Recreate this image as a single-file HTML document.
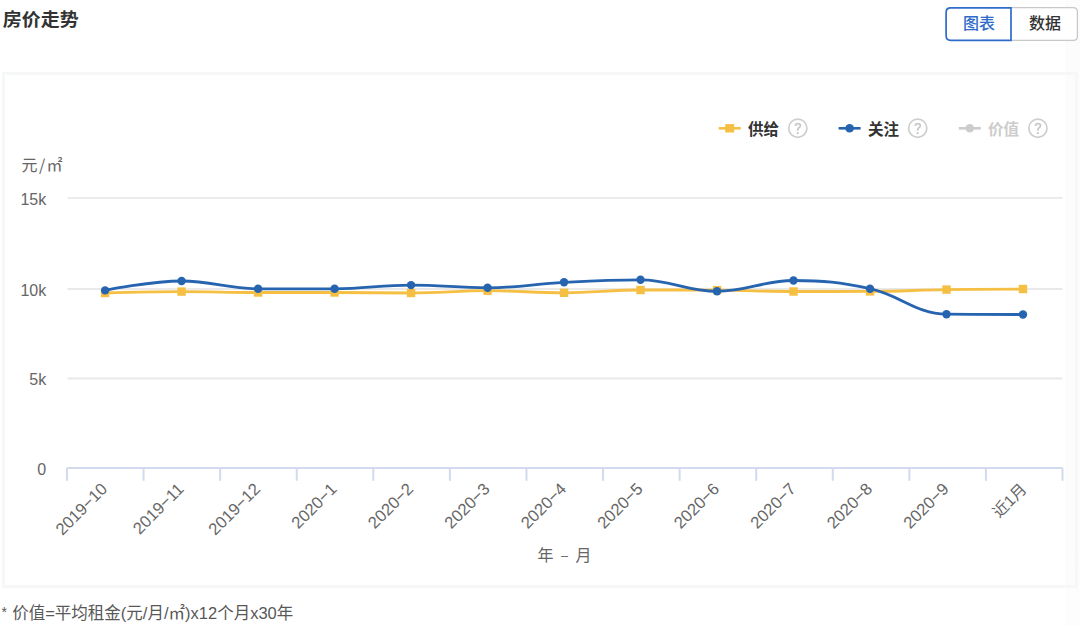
<!DOCTYPE html>
<html><head><meta charset="utf-8"><title>房价走势</title>
<style>
*{box-sizing:border-box;margin:0;padding:0}
html,body{width:1080px;height:626px;background:#fff;overflow:hidden;position:relative;font-family:"Liberation Sans", "Noto Sans CJK SC", sans-serif;}
.title{position:absolute;left:2.8px;top:6px;font-size:19px;font-weight:bold;color:#333;line-height:28px;white-space:nowrap;transform:scaleY(0.94);transform-origin:0 22px}
.btns{position:absolute;left:946px;top:7px;width:132px;height:34px;display:flex;background:#fff;border-radius:4px}
.btn{width:66px;height:34px;font-size:16px;line-height:34px;text-align:center;color:#333;font-weight:500}
.btn.on{color:#2f6bc9}

.box{position:absolute;left:2px;top:72px;width:1076px;height:516px;border:3px solid #f6f7f9;background:transparent}
.note{position:absolute;left:1px;top:600.2px;font-size:16.5px;color:#585858;line-height:24px;white-space:nowrap}
</style></head><body>
<div style="position:absolute;left:1065px;top:0;width:15px;height:626px;background:#fcfcfc;background:linear-gradient(#fcfcfc 0,#fcfcfc 88%,#fdfdfd 100%)"></div>
<div class="title">房价走势</div>
<div class="btns"><div class="btn on">图表</div><div class="btn off">数据</div></div>
<div class="box"></div>
<svg width="1080" height="626" viewBox="0 0 1080 626" style="position:absolute;left:0;top:0" font-family='"Liberation Sans", "Noto Sans CJK SC", sans-serif'>
<line x1="67.5" y1="378.5" x2="1062.5" y2="378.5" stroke="#e9e9e9" stroke-width="1.9"/>
<line x1="67.5" y1="289.0" x2="1062.5" y2="289.0" stroke="#e9e9e9" stroke-width="1.9"/>
<line x1="67.5" y1="197.9" x2="1062.5" y2="197.9" stroke="#e9e9e9" stroke-width="1.9"/>
<line x1="67.0" y1="468.0" x2="1062.5" y2="468.0" stroke="#d2daed" stroke-width="2"/>
<line x1="67.00" y1="468.0" x2="67.00" y2="480.8" stroke="#d2daed" stroke-width="2"/>
<line x1="143.58" y1="468.0" x2="143.58" y2="480.8" stroke="#d2daed" stroke-width="2"/>
<line x1="220.15" y1="468.0" x2="220.15" y2="480.8" stroke="#d2daed" stroke-width="2"/>
<line x1="296.73" y1="468.0" x2="296.73" y2="480.8" stroke="#d2daed" stroke-width="2"/>
<line x1="373.31" y1="468.0" x2="373.31" y2="480.8" stroke="#d2daed" stroke-width="2"/>
<line x1="449.88" y1="468.0" x2="449.88" y2="480.8" stroke="#d2daed" stroke-width="2"/>
<line x1="526.46" y1="468.0" x2="526.46" y2="480.8" stroke="#d2daed" stroke-width="2"/>
<line x1="603.04" y1="468.0" x2="603.04" y2="480.8" stroke="#d2daed" stroke-width="2"/>
<line x1="679.62" y1="468.0" x2="679.62" y2="480.8" stroke="#d2daed" stroke-width="2"/>
<line x1="756.19" y1="468.0" x2="756.19" y2="480.8" stroke="#d2daed" stroke-width="2"/>
<line x1="832.77" y1="468.0" x2="832.77" y2="480.8" stroke="#d2daed" stroke-width="2"/>
<line x1="909.35" y1="468.0" x2="909.35" y2="480.8" stroke="#d2daed" stroke-width="2"/>
<line x1="985.92" y1="468.0" x2="985.92" y2="480.8" stroke="#d2daed" stroke-width="2"/>
<line x1="1062.50" y1="468.0" x2="1062.50" y2="480.8" stroke="#d2daed" stroke-width="2"/>
<text x="46.2" y="474.7" text-anchor="end" font-size="16" fill="#666666">0</text>
<text x="46.2" y="385.2" text-anchor="end" font-size="16" fill="#666666">5k</text>
<text x="46.2" y="295.7" text-anchor="end" font-size="16" fill="#666666">10k</text>
<text x="46.2" y="204.6" text-anchor="end" font-size="16" fill="#666666">15k</text>
<text y="171" font-size="16" fill="#666666" font-family='"Noto Sans CJK SC", sans-serif'><tspan x="21.5">元</tspan><tspan x="39">/</tspan><tspan x="46.6">㎡</tspan></text>
<text x="108.40" y="490.0" text-anchor="end" font-size="16.6" fill="#666666" transform="rotate(-45 108.40 490.0)">2019−10</text>
<text x="184.89" y="490.0" text-anchor="end" font-size="16.6" fill="#666666" transform="rotate(-45 184.89 490.0)">2019−11</text>
<text x="261.38" y="490.0" text-anchor="end" font-size="16.6" fill="#666666" transform="rotate(-45 261.38 490.0)">2019−12</text>
<text x="337.87" y="490.0" text-anchor="end" font-size="16.6" fill="#666666" transform="rotate(-45 337.87 490.0)">2020−1</text>
<text x="414.36" y="490.0" text-anchor="end" font-size="16.6" fill="#666666" transform="rotate(-45 414.36 490.0)">2020−2</text>
<text x="490.85" y="490.0" text-anchor="end" font-size="16.6" fill="#666666" transform="rotate(-45 490.85 490.0)">2020−3</text>
<text x="567.34" y="490.0" text-anchor="end" font-size="16.6" fill="#666666" transform="rotate(-45 567.34 490.0)">2020−4</text>
<text x="643.83" y="490.0" text-anchor="end" font-size="16.6" fill="#666666" transform="rotate(-45 643.83 490.0)">2020−5</text>
<text x="720.32" y="490.0" text-anchor="end" font-size="16.6" fill="#666666" transform="rotate(-45 720.32 490.0)">2020−6</text>
<text x="796.81" y="490.0" text-anchor="end" font-size="16.6" fill="#666666" transform="rotate(-45 796.81 490.0)">2020−7</text>
<text x="873.30" y="490.0" text-anchor="end" font-size="16.6" fill="#666666" transform="rotate(-45 873.30 490.0)">2020−8</text>
<text x="949.79" y="490.0" text-anchor="end" font-size="16.6" fill="#666666" transform="rotate(-45 949.79 490.0)">2020−9</text>
<text x="1027.48" y="490.3" text-anchor="end" font-size="15.6" fill="#666666" transform="rotate(-45 1027.48 490.3)">近1月</text>
<text y="561" font-size="16" fill="#666666"><tspan x="537.6">年</tspan><tspan x="561" dy="-0.8" font-size="12.6">–</tspan><tspan x="575.6" dy="0.8">月</tspan></text>
<path d="M105.10 293.00 C105.10 293.00 150.99 291.60 181.59 291.60 C212.19 291.60 227.48 292.50 258.08 292.50 C288.68 292.50 303.97 292.50 334.57 292.50 C365.17 292.50 380.46 293.00 411.06 293.00 C441.66 293.00 456.95 290.70 487.55 290.70 C518.15 290.70 533.44 292.80 564.04 292.80 C594.64 292.80 609.93 290.00 640.53 290.00 C671.13 290.00 686.42 290.00 717.02 290.10 C747.62 290.20 762.91 291.50 793.51 291.50 C824.11 291.50 839.40 291.50 870.00 291.40 C900.60 291.30 915.89 290.08 946.49 289.60 C977.09 289.12 1022.98 289.00 1022.98 289.00" fill="none" stroke="#f5bf43" stroke-width="2.8" stroke-linejoin="round" stroke-linecap="round"/>
<rect x="100.90" y="288.80" width="8.4" height="8.4" fill="#f5bf43"/>
<rect x="177.39" y="287.40" width="8.4" height="8.4" fill="#f5bf43"/>
<rect x="253.88" y="288.30" width="8.4" height="8.4" fill="#f5bf43"/>
<rect x="330.37" y="288.30" width="8.4" height="8.4" fill="#f5bf43"/>
<rect x="406.86" y="288.80" width="8.4" height="8.4" fill="#f5bf43"/>
<rect x="483.35" y="286.50" width="8.4" height="8.4" fill="#f5bf43"/>
<rect x="559.84" y="288.60" width="8.4" height="8.4" fill="#f5bf43"/>
<rect x="636.33" y="285.80" width="8.4" height="8.4" fill="#f5bf43"/>
<rect x="712.82" y="285.90" width="8.4" height="8.4" fill="#f5bf43"/>
<rect x="789.31" y="287.30" width="8.4" height="8.4" fill="#f5bf43"/>
<rect x="865.80" y="287.20" width="8.4" height="8.4" fill="#f5bf43"/>
<rect x="942.29" y="285.40" width="8.4" height="8.4" fill="#f5bf43"/>
<rect x="1018.78" y="284.80" width="8.4" height="8.4" fill="#f5bf43"/>
<path d="M105.10 290.40 C105.10 290.40 150.99 281.00 181.59 281.00 C212.19 281.00 227.48 288.80 258.08 288.80 C288.68 288.80 303.97 288.80 334.57 288.80 C365.17 288.80 380.46 285.10 411.06 285.10 C441.66 285.10 456.95 287.80 487.55 287.80 C518.15 287.80 533.44 283.90 564.04 282.30 C594.64 280.70 609.93 279.80 640.53 279.80 C671.13 279.80 686.42 291.30 717.02 291.30 C747.62 291.30 762.91 280.50 793.51 280.50 C824.11 280.50 839.40 281.96 870.00 288.70 C900.60 295.44 915.89 313.90 946.49 314.20 C977.09 314.50 1022.98 314.50 1022.98 314.50" fill="none" stroke="#2664b0" stroke-width="2.8" stroke-linejoin="round" stroke-linecap="round"/>
<circle cx="105.10" cy="290.40" r="4.2" fill="#2664b0"/>
<circle cx="181.59" cy="281.00" r="4.2" fill="#2664b0"/>
<circle cx="258.08" cy="288.80" r="4.2" fill="#2664b0"/>
<circle cx="334.57" cy="288.80" r="4.2" fill="#2664b0"/>
<circle cx="411.06" cy="285.10" r="4.2" fill="#2664b0"/>
<circle cx="487.55" cy="287.80" r="4.2" fill="#2664b0"/>
<circle cx="564.04" cy="282.30" r="4.2" fill="#2664b0"/>
<circle cx="640.53" cy="279.80" r="4.2" fill="#2664b0"/>
<circle cx="717.02" cy="291.30" r="4.2" fill="#2664b0"/>
<circle cx="793.51" cy="280.50" r="4.2" fill="#2664b0"/>
<circle cx="870.00" cy="288.70" r="4.2" fill="#2664b0"/>
<circle cx="946.49" cy="314.20" r="4.2" fill="#2664b0"/>
<circle cx="1022.98" cy="314.50" r="4.2" fill="#2664b0"/>
<line x1="718.7" y1="128.3" x2="740.7" y2="128.3" stroke="#f5bf43" stroke-width="2.6"/>
<rect x="725.2" y="124.10000000000001" width="9" height="8.4" fill="#f5bf43"/>
<text x="748.0" y="134.9" font-size="15.5" font-weight="bold" fill="#333333">供给</text>
<circle cx="797.8" cy="128.20000000000002" r="9.1" fill="none" stroke="#cecece" stroke-width="1.7"/><path d="M795.50,125.90 C795.50,124.40 796.70,123.60 798.00,123.60 C799.40,123.60 800.40,124.50 800.40,125.70 C800.40,126.80 799.70,127.30 798.90,127.80 C798.10,128.30 797.80,128.80 797.80,129.70 L797.80,130.80" fill="none" stroke="#c9c9c9" stroke-width="1.8"/><circle cx="797.70" cy="133.20" r="1.15" fill="#c9c9c9"/>
<line x1="838.6" y1="128.3" x2="860.6" y2="128.3" stroke="#2664b0" stroke-width="2.6"/>
<circle cx="849.6" cy="128.3" r="4.3" fill="#2664b0"/>
<text x="867.9" y="134.9" font-size="15.5" font-weight="bold" fill="#333333">关注</text>
<circle cx="917.7" cy="128.20000000000002" r="9.1" fill="none" stroke="#cecece" stroke-width="1.7"/><path d="M915.40,125.90 C915.40,124.40 916.60,123.60 917.90,123.60 C919.30,123.60 920.30,124.50 920.30,125.70 C920.30,126.80 919.60,127.30 918.80,127.80 C918.00,128.30 917.70,128.80 917.70,129.70 L917.70,130.80" fill="none" stroke="#c9c9c9" stroke-width="1.8"/><circle cx="917.60" cy="133.20" r="1.15" fill="#c9c9c9"/>
<line x1="958.8" y1="128.3" x2="980.8" y2="128.3" stroke="#cccccc" stroke-width="2.6"/>
<circle cx="969.8" cy="128.3" r="4.3" fill="#cccccc"/>
<text x="988.0999999999999" y="134.9" font-size="15.5" font-weight="bold" fill="#cccccc">价值</text>
<circle cx="1037.9" cy="128.20000000000002" r="9.1" fill="none" stroke="#cecece" stroke-width="1.7"/><path d="M1035.60,125.90 C1035.60,124.40 1036.80,123.60 1038.10,123.60 C1039.50,123.60 1040.50,124.50 1040.50,125.70 C1040.50,126.80 1039.80,127.30 1039.00,127.80 C1038.20,128.30 1037.90,128.80 1037.90,129.70 L1037.90,130.80" fill="none" stroke="#c9c9c9" stroke-width="1.8"/><circle cx="1037.80" cy="133.20" r="1.15" fill="#c9c9c9"/>
<path d="M1011.2 7.6 H1073.2 Q1077.4 7.6 1077.4 11.8 V36.2 Q1077.4 40.4 1073.2 40.4 H1011.2" fill="none" stroke="#c8c8c8" stroke-width="1.3"/>
<path d="M1011 7.8 H950.6 Q946.1 7.8 946.1 12.3 V35.8 Q946.1 40.3 950.6 40.3 H1011 Z" fill="none" stroke="#2f6bc9" stroke-width="1.7"/>
</svg>
<div class="note"><span style="font-size:14px;position:relative;top:-2.5px;left:0.6px;margin-right:1.2px">*</span> 价值=平均租金(元/月/<span style="font-family:'Noto Sans CJK SC'">㎡</span>)x12个月x30年</div>
</body></html>
